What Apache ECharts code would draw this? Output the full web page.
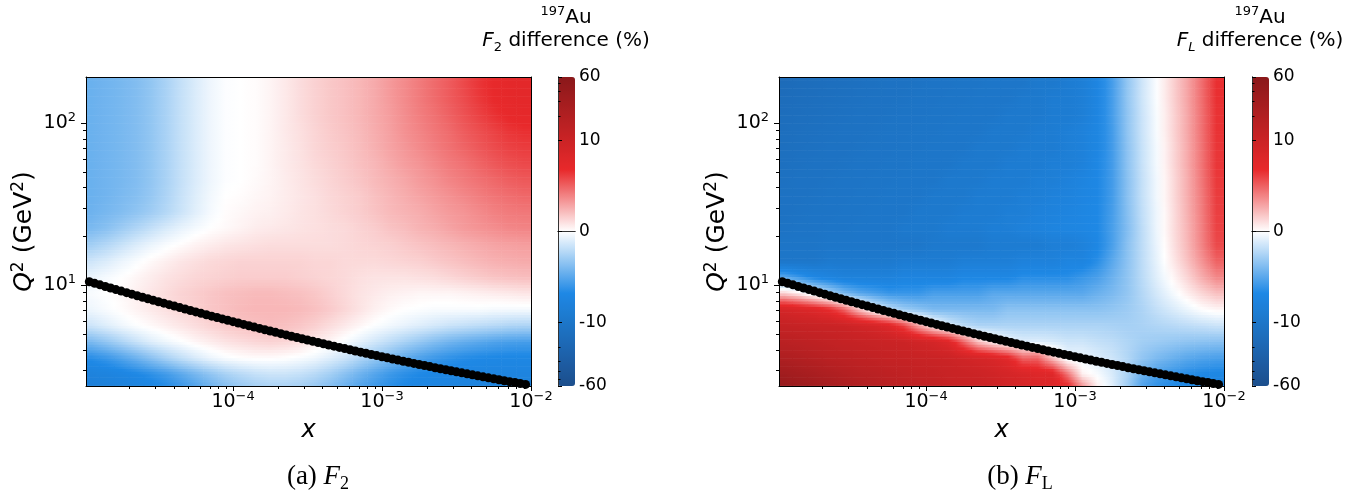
<!DOCTYPE html>
<html>
<head>
<meta charset="utf-8">
<script src="https://cdn.jsdelivr.net/npm/echarts@6/dist/echarts.min.js"></script>
<style>
  html, body { margin: 0; padding: 0; background: #fff; }
  #chart { width: 1369px; height: 496px; }
</style>
</head>
<body>
<div id="chart"></div>
<script>
// cell edges of the two maps: x (log spaced) and Q^2 in GeV^2, top row first
const xEdges = [1.000e-5, 1.259e-5, 1.585e-5, 1.995e-5, 2.512e-5, 3.162e-5, 3.981e-5, 5.012e-5, 6.310e-5, 7.943e-5,
  1.000e-4, 1.259e-4, 1.585e-4, 1.995e-4, 2.512e-4, 3.162e-4, 3.981e-4, 5.012e-4, 6.310e-4, 7.943e-4,
  1.000e-3, 1.259e-3, 1.585e-3, 1.995e-3, 2.512e-3, 3.162e-3, 3.981e-3, 5.012e-3, 6.310e-3, 7.943e-3, 1.000e-2];
const q2Edges = [199.5, 158.5, 125.9, 100.0, 79.43, 63.10, 50.12, 39.81, 31.62, 25.12, 19.95,
  15.85, 12.59, 10.00, 7.943, 6.310, 5.012, 3.981, 3.162, 2.512, 1.995];

// F2 difference (%) per cell
const f2Diff = [
  [-4.5,-4.3,-4.1,-3.8,-3.3,-2.6,-1.8,-1.1,-0.5,-0.1, 0.0,0.1,0.35,0.7,1.1,1.45,1.75,2.0,2.3,2.7, 3.2,3.7,4.2,4.7,5.2,5.8,6.4,6.9,7.2,7.4],
  [-4.5,-4.3,-4.1,-3.8,-3.3,-2.6,-1.8,-1.1,-0.5,-0.1, 0.0,0.1,0.35,0.7,1.1,1.45,1.75,2.0,2.3,2.7, 3.2,3.7,4.2,4.7,5.2,5.7,6.3,6.8,7.1,7.3],
  [-4.5,-4.3,-4.1,-3.8,-3.3,-2.6,-1.8,-1.1,-0.5,-0.1, 0.0,0.1,0.35,0.7,1.1,1.45,1.75,2.0,2.3,2.7, 3.1,3.6,4.1,4.5,5.0,5.5,6.0,6.5,6.9,7.1],
  [-4.5,-4.3,-4.1,-3.8,-3.3,-2.6,-1.8,-1.1,-0.5,-0.1, 0.0,0.1,0.35,0.7,1.0,1.35,1.65,1.9,2.2,2.6, 3.0,3.5,3.9,4.3,4.7,5.2,5.6,6.0,6.4,6.6],
  [-4.5,-4.3,-4.1,-3.8,-3.3,-2.6,-1.8,-1.1,-0.5,-0.1, 0.0,0.1,0.35,0.65,0.95,1.3,1.55,1.8,2.1,2.5, 2.9,3.3,3.7,4.1,4.5,4.9,5.3,5.7,6.0,6.2],
  [-4.5,-4.3,-4.1,-3.8,-3.3,-2.6,-1.8,-1.1,-0.5,-0.1, 0.0,0.1,0.35,0.65,0.9,1.2,1.45,1.7,2.0,2.3, 2.7,3.1,3.4,3.8,4.2,4.5,4.9,5.3,5.6,5.8],
  [-4.5,-4.3,-4.1,-3.8,-3.3,-2.6,-1.8,-1.1,-0.5,-0.1, 0.0,0.15,0.35,0.6,0.85,1.1,1.35,1.6,1.85,2.2, 2.5,2.8,3.2,3.5,3.9,4.2,4.5,4.8,5.1,5.3],
  [-4.5,-4.3,-4.0,-3.7,-3.2,-2.5,-1.7,-1.0,-0.4,0.0, 0.1,0.25,0.4,0.6,0.8,1.0,1.25,1.45,1.65,2.0, 2.3,2.6,2.9,3.2,3.5,3.8,4.1,4.4,4.6,4.8],
  [-4.4,-4.1,-3.8,-3.4,-2.9,-2.3,-1.6,-0.9,-0.3,0.1, 0.25,0.4,0.5,0.65,0.85,1.0,1.2,1.4,1.6,1.9, 2.2,2.4,2.6,2.9,3.2,3.4,3.7,4.0,4.2,4.3],
  [-4.0,-3.6,-3.0,-2.4,-1.8,-1.2,-0.7,-0.3,0.0,0.2, 0.4,0.6,0.7,0.8,0.9,1.0,1.1,1.2,1.4,1.6, 1.9,2.1,2.4,2.6,2.9,3.2,3.4,3.6,3.8,3.9],
  [-2.8,-2.3,-1.7,-1.1,-0.6,-0.2,0.1,0.4,0.6,0.8, 0.9,1.0,1.1,1.1,1.1,1.1,1.1,1.2,1.3,1.4, 1.5,1.7,1.9,2.1,2.3,2.5,2.7,2.9,3.0,3.1],
  [-1.5,-1.1,-0.6,-0.2,0.2,0.5,0.8,1.0,1.2,1.3, 1.4,1.4,1.4,1.4,1.4,1.3,1.3,1.2,1.2,1.2, 1.3,1.4,1.5,1.7,1.9,2.1,2.3,2.5,2.6,2.7],
  [-0.6,-0.3,0.0,0.3,0.6,0.9,1.1,1.3,1.4,1.5, 1.6,1.6,1.6,1.6,1.5,1.4,1.3,1.2,1.0,0.9, 0.9,0.9,1.0,1.1,1.3,1.5,1.7,1.9,2.0,2.1],
  [-0.2,0.0,0.2,0.5,0.8,1.1,1.4,1.6,1.8,2.0, 2.1,2.2,2.2,2.1,2.0,1.8,1.5,1.2,0.9,0.7, 0.5,0.4,0.3,0.3,0.3,0.4,0.5,0.6,0.7,0.8],
  [-0.5,-0.2,0.1,0.4,0.7,1.0,1.3,1.5,1.8,2.0, 2.2,2.3,2.3,2.3,2.2,2.0,1.7,1.3,0.9,0.5, 0.2,0.0,-0.1,-0.2,-0.2,-0.2,-0.2,-0.3,-0.3,-0.3],
  [-1.5,-1.0,-0.5,-0.1,0.2,0.5,0.8,1.1,1.4,1.7, 1.9,2.0,2.1,2.0,1.8,1.5,1.1,0.7,0.3,-0.1, -0.4,-0.7,-1.0,-1.3,-1.6,-1.8,-2.0,-2.2,-2.4,-2.5],
  [-4.0,-3.3,-2.5,-1.7,-1.0,-0.5,-0.1,0.3,0.6,0.9, 1.1,1.3,1.4,1.3,1.1,0.7,0.3,-0.2,-0.8,-1.4, -2.0,-2.6,-3.2,-3.8,-4.3,-4.7,-5.0,-5.3,-5.5,-5.6],
  [-6.5,-6.0,-5.3,-4.5,-3.6,-2.7,-1.9,-1.2,-0.6,-0.2, 0.0,0.1,0.1,0.0,-0.2,-0.5,-1.0,-1.6,-2.4,-3.2, -4.0,-4.8,-5.4,-5.9,-6.3,-6.6,-6.8,-6.9,-7.0,-7.0],
  [-7.8,-7.6,-7.3,-6.9,-6.4,-5.8,-5.0,-4.2,-3.4,-2.7, -2.2,-1.8,-1.6,-1.6,-1.8,-2.2,-2.8,-3.6,-4.4,-5.2, -5.9,-6.4,-6.8,-7.0,-7.2,-7.3,-7.4,-7.5,-7.5,-7.5],
  [-8.5,-8.3,-8.1,-7.8,-7.4,-6.9,-6.3,-5.6,-4.8,-4.1, -3.5,-3.1,-2.9,-2.9,-3.1,-3.5,-4.1,-4.8,-5.5,-6.1, -6.6,-7.0,-7.3,-7.5,-7.6,-7.7,-7.8,-7.8,-7.8,-7.8]
];

// FL difference (%) per cell
const flDiff = [
  [-16,-15,-14.5,-14,-13.5,-13,-12.5,-12,-12,-11.5,-11,-11,-10.5,-10.5,-10,-10,-10,-9.5,-9.5,-9,-8.5,-7.3,-5.6,-3.3,-1.5,-0.1,1.3,2.8,4.6,6.6],
  [-15,-14.5,-14,-13.5,-13,-12.5,-12,-12,-11.5,-11,-11,-10.5,-10.5,-10,-10,-10,-9.5,-9.5,-9,-9,-8.5,-7.3,-5.6,-3.3,-1.5,-0.1,1.3,2.8,4.6,6.6],
  [-14.5,-14,-13.5,-13,-12.5,-12,-12,-11.5,-11,-11,-10.5,-10.5,-10,-10,-10,-9.5,-9.5,-9.5,-9,-9,-8.5,-7.3,-5.6,-3.4,-1.6,-0.2,1.2,2.7,4.5,6.5],
  [-14,-13.5,-13,-12.5,-12,-12,-11.5,-11,-11,-10.5,-10.5,-10,-10,-10,-9.5,-9.5,-9.5,-9,-9,-8.5,-8,-7.2,-5.7,-3.4,-1.6,-0.2,1.2,2.7,4.5,6.5],
  [-13.5,-13,-12.5,-12,-12,-11.5,-11,-11,-10.5,-10.5,-10,-10,-10,-9.5,-9.5,-9.5,-9,-9,-9,-8.5,-8,-7.2,-5.7,-3.5,-1.7,-0.3,1.1,2.6,4.4,6.4],
  [-13,-12.5,-12,-12,-11.5,-11,-11,-10.5,-10.5,-10,-10,-10,-9.5,-9.5,-9.5,-9,-9,-9,-8.5,-8.5,-8,-7.0,-5.7,-3.5,-1.7,-0.3,1.1,2.6,4.4,6.4],
  [-12.5,-12,-12,-11.5,-11,-11,-10.5,-10.5,-10,-10,-10,-9.5,-9.5,-9.5,-9,-9,-9,-8.5,-8.5,-8,-7.5,-6.9,-5.7,-3.6,-1.8,-0.4,1.0,2.5,4.3,6.3],
  [-12,-12,-11.5,-11,-11,-10.5,-10.5,-10,-10,-10,-9.5,-9.5,-9.5,-9,-9,-9,-8.5,-8.5,-8,-7.8,-7.3,-6.9,-5.7,-3.6,-1.8,-0.4,1.0,2.5,4.2,6.2],
  [-12,-11.5,-11,-11,-10.5,-10.5,-10,-10,-10,-9.5,-9.5,-9.5,-9,-9,-9,-8.5,-8.5,-8,-7.8,-7.5,-7.2,-6.8,-5.6,-3.7,-1.9,-0.5,0.9,2.4,4.1,6.1],
  [-11.5,-11,-11,-10.5,-10.5,-10,-10,-10,-9.5,-9.5,-9.5,-9,-9,-9,-8.5,-8.5,-8,-7.8,-7.5,-7.3,-7.1,-6.8,-5.5,-3.8,-2.0,-0.5,0.9,2.3,4.0,6.0],
  [-10.5,-10.5,-10.5,-10,-10,-10,-10,-10,-10,-10,-9.5,-9.5,-9.5,-9.5,-9,-9,-9,-9,-8.5,-8.5,-8,-7,-5.5,-3.6,-2.0,-0.6,0.8,2.2,3.9,5.8],
  [-10,-10,-10,-9.5,-9.5,-9.5,-9.5,-9.5,-9,-9,-9,-9,-8.5,-8.5,-8.5,-8.5,-8,-8,-8,-7.5,-7.5,-6.5,-5.0,-3.5,-2.0,-0.7,0.6,1.9,3.4,5.0],
  [-5,-6,-7,-7.5,-8,-8,-8,-8,-7.5,-7.5,-7.5,-7.5,-7,-7,-7,-7,-6.5,-6.5,-6.5,-6.5,-6,-5.5,-4.5,-3.4,-2.1,-0.9,0.2,1.3,2.6,3.8],
  [1.5,0.5,-1,-2.5,-4,-5,-5.5,-6,-6,-6,-5.5,-5.5,-5.5,-5.5,-5,-5,-5,-5,-5,-5,-5,-4.5,-4.0,-3.3,-2.3,-1.3,-0.4,0.5,1.3,2.0],
  [9,8.5,8,7,5,2,-0.5,-2,-3,-3.5,-4,-4,-4,-4,-4,-3.5,-3.5,-3.5,-3.5,-3.5,-3.5,-3.5,-3.3,-3.0,-2.5,-1.8,-1.2,-0.6,0.0,0.3],
  [12,11.5,11,10.5,10,9.5,9,8,6,3,0.5,-1,-2,-2.5,-2.5,-2.5,-2.5,-2.5,-2.5,-2.5,-2.5,-2.5,-2.6,-2.7,-2.6,-2.4,-2.2,-2.0,-1.8,-1.6],
  [16,15,14,13,12,11.5,11,10.5,10,9.5,9,8,5,2,0.5,-0.5,-1,-1,-1.2,-1.5,-1.5,-1.8,-2.0,-2.4,-2.8,-3.0,-3.2,-3.4,-3.5,-3.6],
  [22,20,18,16,15,14,13,12,11.5,11,10.5,10,9.5,9,8.5,7.5,5,5,2,-0.5,-0.5,-1.0,-1.5,-2.3,-3.3,-4.0,-4.5,-5.0,-5.3,-5.5],
  [32,28,25,22,19,17,16,14.5,13.5,12.5,12,11,10.5,10,9.5,9,8.5,8,8,4.5,0.5,-0.2,-1.2,-2.5,-4.5,-5.5,-6.0,-6.5,-6.8,-7.0],
  [45,40,34,29,25,22,19,17,15,14,13,12,11,10.5,10,9.5,9,8.5,8,8,4.5,0.8,-0.8,-3.0,-5.5,-6.5,-7.0,-7.2,-7.3,-7.5]
];

// black points drawn on both maps
const dotX = [
  1.084e-5,1.177e-5,1.278e-5,1.387e-5,1.506e-5,1.635e-5,1.775e-5,1.928e-5,2.093e-5,2.272e-5,2.467e-5,2.679e-5,2.908e-5,3.157e-5,
  3.428e-5,3.722e-5,4.041e-5,4.387e-5,4.764e-5,5.172e-5,5.615e-5,6.096e-5,6.618e-5,7.186e-5,7.801e-5,8.469e-5,9.196e-5,9.984e-5,
  1.084e-4,1.177e-4,1.278e-4,1.387e-4,1.506e-4,1.635e-4,1.775e-4,1.928e-4,2.093e-4,2.272e-4,2.467e-4,2.679e-4,2.908e-4,3.157e-4,
  3.428e-4,3.722e-4,4.041e-4,4.387e-4,4.764e-4,5.172e-4,5.615e-4,6.096e-4,6.618e-4,7.186e-4,7.801e-4,8.469e-4,9.196e-4,9.984e-4,
  1.084e-3,1.177e-3,1.278e-3,1.387e-3,1.506e-3,1.635e-3,1.775e-3,1.928e-3,2.093e-3,2.272e-3,2.467e-3,2.679e-3,2.908e-3,3.157e-3,
  3.428e-3,3.722e-3,4.041e-3,4.387e-3,4.764e-3,5.172e-3,5.615e-3,6.096e-3,6.618e-3,7.186e-3,7.801e-3,8.469e-3,9.196e-3
];
const dotQ2 = [
  10.52,10.28,10.06,9.835,9.619,9.409,9.205,9.006,8.812,8.624,
  8.440,8.262,8.088,7.919,7.754,7.594,7.438,7.285,7.137,6.993,
  6.852,6.714,6.581,6.451,6.324,6.200,6.080,5.962,5.848,5.736,
  5.628,5.522,5.418,5.318,5.219,5.123,5.029,4.938,4.849,4.762,
  4.677,4.595,4.514,4.435,4.358,4.283,4.210,4.138,4.068,3.999,
  3.933,3.867,3.804,3.742,3.681,3.622,3.565,3.508,3.453,3.400,
  3.347,3.295,3.245,3.196,3.148,3.100,3.055,3.010,2.966,2.923,
  2.881,2.840,2.800,2.761,2.722,2.685,2.648,2.612,2.577,2.543,
  2.510,2.477,2.445
];

const xTicks = [1e-4, 1e-3, 1e-2];
const xTickLabels = ['10{s|−4}', '10{s|−3}', '10{s|−2}'];
const yTicks = [10, 100];
const yTickLabels = ['10{s|1}', '10{s|2}'];
const cbTicks = [-60, -10, 0, 10, 60];
const cbMinorTicks = [-50, -40, -30, -20, 20, 30, 40, 50];
const cmap = ['#1c4e8c', '#1d61aa', '#1d75c7', '#1e88e5', '#8fc4f2', '#ffffff',
  '#f49495', '#e8292b', '#c92325', '#a91e20', '#8a181a'];

const X_MIN = 1.03e-5, X_MAX = 1e-2, Y_MIN = 2.39, Y_MAX = 193;
const FONT = 'DejaVu Sans';
const TOP = 77, W = 445, H = 309, CBW = 17;
const STRIPS = 6;

// matplotlib style symlog, linthresh 10
const LINSCALE = 1 / (1 - 1 / 10);
function symlog(v) {
  const a = Math.abs(v);
  const s = a <= 10 ? a / 10 * LINSCALE : LINSCALE + Math.log10(a / 10);
  return v < 0 ? -s : s;
}
const CB_MAX = symlog(60);

const xMinor = [];
[1e-5, 1e-4, 1e-3].forEach(p => { for (let m = 2; m < 10; m++) xMinor.push(m * p); });
const yMinor = [];
[1, 10, 100].forEach(p => { for (let m = 2; m < 10; m++) yMinor.push(m * p); });

function pick(ticks, labels, v, logScale) {
  let best = 0, bd = Infinity;
  ticks.forEach((t, i) => {
    const d = logScale ? Math.abs(Math.log10(t) - Math.log10(v)) : Math.abs(symlog(t) - v);
    if (d < bd) { bd = d; best = i; }
  });
  return labels[best];
}

const cmapRgb = cmap.map(h => [1, 3, 5].map(k => parseInt(h.slice(k, k + 2), 16)));
function colorOf(s) {
  let t = (s + CB_MAX) / (2 * CB_MAX) * (cmap.length - 1);
  t = Math.max(0, Math.min(cmap.length - 1, t));
  const i = Math.min(cmap.length - 2, Math.floor(t)), f = t - i;
  const a = cmapRgb[i], b = cmapRgb[i + 1];
  return 'rgb(' + a.map((v, k) => Math.round(v + (b[k] - v) * f)).join(',') + ')';
}

function cells(grid) {
  const out = [];
  grid.forEach((row, r) => row.forEach((v, c) => {
    out.push([xEdges[c], xEdges[c + 1], q2Edges[r + 1], q2Edges[r], symlog(v), v]);
  }));
  return out;
}

// each cell is shaded from its own value toward its neighbours (gouraud-like)
function makeRenderer(vals) {
  const S = vals.map(row => row.map(symlog));
  const nR = S.length, nC = S[0].length;
  function sample(r, c) {
    r = Math.max(0, Math.min(nR - 1, r));
    c = Math.max(0, Math.min(nC - 1, c));
    const r0 = Math.min(nR - 2, Math.floor(r)), c0 = Math.min(nC - 2, Math.floor(c));
    const fr = r - r0, fc = c - c0;
    return (S[r0][c0] * (1 - fc) + S[r0][c0 + 1] * fc) * (1 - fr) +
      (S[r0 + 1][c0] * (1 - fc) + S[r0 + 1][c0 + 1] * fc) * fr;
  }
  return function (params, api) {
    const idx = params.dataIndex, r = Math.floor(idx / nC), c = idx % nC;
    const a = api.coord([api.value(0), api.value(3)]);
    const b = api.coord([api.value(1), api.value(2)]);
    const cs = params.coordSys;
    const clip = { x: cs.x, y: cs.y, width: cs.width, height: cs.height };
    const children = [];
    for (let k = 0; k < STRIPS; k++) {
      const fy = r - 0.5 + (k + 0.5) / STRIPS;
      const y0 = a[1] + (b[1] - a[1]) * k / STRIPS;
      const y1 = a[1] + (b[1] - a[1]) * (k + 1) / STRIPS;
      const shape = echarts.graphic.clipRectByRect(
        { x: a[0], y: y0, width: b[0] - a[0] + 0.6, height: y1 - y0 + 0.6 }, clip);
      if (!shape) continue;
      children.push({
        type: 'rect', shape: shape,
        style: { fill: new echarts.graphic.LinearGradient(a[0], 0, b[0], 0, [
          { offset: 0, color: colorOf(sample(fy, c - 0.5)) },
          { offset: 0.5, color: colorOf(sample(fy, c)) },
          { offset: 1, color: colorOf(sample(fy, c + 0.5)) }], true) }
      });
    }
    return { type: 'group', children: children };
  };
}

const black = { color: '#000', width: 1 };
const supRich = { s: { fontSize: 13, lineHeight: 13, verticalAlign: 'top', fontFamily: FONT, color: '#000' } };
const panels = [
  { left: 86, cbLeft: 558, data: f2Diff, name: 'F2' },
  { left: 779, cbLeft: 1252, data: flDiff, name: 'FL' }
];

const grid = [], xAxis = [], yAxis = [], series = [], visualMap = [];
panels.forEach((p) => {
  const g = grid.length;
  grid.push({ left: p.left, top: TOP, width: W, height: H });
  grid.push({ left: p.cbLeft, top: TOP, width: CBW, height: H });
  const xi = xAxis.length, yi = yAxis.length;
  // main map axes
  xAxis.push({
    gridIndex: g, type: 'log', min: X_MIN, max: X_MAX, position: 'bottom', z: 10,
    axisLine: { show: true, lineStyle: black },
    axisTick: { show: true, customValues: xTicks, length: 5, lineStyle: black },
    axisLabel: { customValues: xTicks, formatter: v => pick(xTicks, xTickLabels, v, true),
      color: '#000', fontFamily: FONT, fontSize: 19, lineHeight: 24, margin: 4, rich: supRich },
    splitLine: { show: false },
    name: 'x', nameLocation: 'middle', nameGap: 33,
    nameTextStyle: { color: '#000', fontFamily: FONT, fontSize: 24, fontStyle: 'italic' }
  });
  xAxis.push({
    gridIndex: g, type: 'log', min: X_MIN, max: X_MAX, position: 'bottom', z: 10,
    axisLine: { show: false },
    axisTick: { show: true, customValues: xMinor, length: 3, lineStyle: black },
    axisLabel: { show: false }, splitLine: { show: false }
  });
  xAxis.push({
    gridIndex: g, type: 'value', min: 0, max: 1, position: 'top', z: 10,
    axisLine: { show: true, lineStyle: black }, axisTick: { show: false },
    axisLabel: { show: false }, splitLine: { show: false }
  });
  yAxis.push({
    gridIndex: g, type: 'log', min: Y_MIN, max: Y_MAX, position: 'left', z: 10,
    axisLine: { show: true, lineStyle: black },
    axisTick: { show: true, customValues: yTicks, length: 5, lineStyle: black },
    axisLabel: { customValues: yTicks, formatter: v => pick(yTicks, yTickLabels, v, true),
      color: '#000', fontFamily: FONT, fontSize: 19, lineHeight: 24, margin: 10, rich: supRich },
    splitLine: { show: false },
    name: '{i|Q}{s|2} (GeV{s|2})', nameLocation: 'middle', nameGap: 45, nameRotate: 90,
    nameTextStyle: { color: '#000', fontFamily: FONT, fontSize: 25, lineHeight: 30,
      rich: { i: { fontStyle: 'italic', fontFamily: FONT, fontSize: 25, color: '#000' },
              s: { fontFamily: FONT, fontSize: 17, lineHeight: 17, verticalAlign: 'top', color: '#000' } } }
  });
  yAxis.push({
    gridIndex: g, type: 'log', min: Y_MIN, max: Y_MAX, position: 'left', z: 10,
    axisLine: { show: false },
    axisTick: { show: true, customValues: yMinor, length: 3, lineStyle: black },
    axisLabel: { show: false }, splitLine: { show: false }
  });
  yAxis.push({
    gridIndex: g, type: 'value', min: 0, max: 1, position: 'right', z: 10,
    axisLine: { show: true, lineStyle: black }, axisTick: { show: false },
    axisLabel: { show: false }, splitLine: { show: false }
  });
  // colorbar frame and ticks
  const cbLine = { color: '#333', width: 1 };
  xAxis.push({ gridIndex: g + 1, type: 'value', min: 0, max: 1, position: 'bottom', z: 10,
    axisLine: { show: true, lineStyle: cbLine }, axisTick: { show: false }, axisLabel: { show: false }, splitLine: { show: false } });
  xAxis.push({ gridIndex: g + 1, type: 'value', min: 0, max: 1, position: 'top', z: 10,
    axisLine: { show: true, lineStyle: cbLine }, axisTick: { show: false }, axisLabel: { show: false }, splitLine: { show: false } });
  yAxis.push({ gridIndex: g + 1, type: 'value', min: -CB_MAX, max: CB_MAX, position: 'right', z: 10,
    axisLine: { show: true, lineStyle: cbLine },
    axisTick: { show: true, customValues: cbTicks.map(symlog), length: 4, lineStyle: black },
    axisLabel: { customValues: cbTicks.map(symlog), formatter: v => pick(cbTicks, cbTicks.map(String), v, false),
      color: '#000', fontFamily: FONT, fontSize: 17, margin: 4 },
    splitLine: { show: false } });
  yAxis.push({ gridIndex: g + 1, type: 'value', min: -CB_MAX, max: CB_MAX, position: 'right', z: 10,
    axisLine: { show: false },
    axisTick: { show: true, customValues: cbMinorTicks.map(symlog), length: 2.5, lineStyle: black },
    axisLabel: { show: false }, splitLine: { show: false } });
  yAxis.push({ gridIndex: g + 1, type: 'value', min: -CB_MAX, max: CB_MAX, position: 'left', z: 10,
    axisLine: { show: true, lineStyle: cbLine }, axisTick: { show: false }, axisLabel: { show: false }, splitLine: { show: false } });

  const si = series.length;
  series.push({
    type: 'custom', name: p.name, xAxisIndex: xi, yAxisIndex: yi,
    renderItem: makeRenderer(p.data), data: cells(p.data),
    encode: { x: [0, 1], y: [2, 3], tooltip: 5 }, z: 2
  });
  series.push({
    type: 'scatter', xAxisIndex: xi, yAxisIndex: yi, symbol: 'circle', symbolSize: 9,
    itemStyle: { color: '#000', opacity: 1 }, data: dotX.map((x, k) => [x, dotQ2[k]]), z: 5
  });
  visualMap.push({
    type: 'continuous', seriesIndex: si, dimension: 4, min: -CB_MAX, max: CB_MAX,
    inRange: { color: cmap }, orient: 'vertical', left: p.cbLeft, top: TOP,
    itemWidth: CBW, itemHeight: H, padding: 0, calculable: false, text: null
  });
});

const titleRich = {
  s: { fontFamily: FONT, fontSize: 13, lineHeight: 13, verticalAlign: 'top', fill: '#000' },
  i: { fontFamily: FONT, fontSize: 20, fontStyle: 'italic', lineHeight: 26, fill: '#000' },
  b: { fontFamily: FONT, fontSize: 13, lineHeight: 13, verticalAlign: 'bottom', fill: '#000' },
  bi: { fontFamily: FONT, fontSize: 13, lineHeight: 13, verticalAlign: 'bottom', fontStyle: 'italic', fill: '#000' }
};
const graphic = [];
[{ cx: 566, line2: '{i|F}{b|2} difference (%)' }, { cx: 1260, line2: '{i|F}{bi|L} difference (%)' }].forEach(t => {
  graphic.push({ type: 'text', x: t.cx, y: 5, style: { text: '{s|197}Au', align: 'center', verticalAlign: 'top',
    fontFamily: FONT, fontSize: 20, lineHeight: 26, fill: '#000', rich: titleRich } });
  graphic.push({ type: 'text', x: t.cx, y: 28, style: { text: t.line2, align: 'center', verticalAlign: 'top',
    fontFamily: FONT, fontSize: 20, lineHeight: 26, fill: '#000', rich: titleRich } });
});
const serif = 'Liberation Serif';
const capRich = {
  i: { fontFamily: serif, fontSize: 27, fontStyle: 'italic', lineHeight: 32, fill: '#000' },
  b: { fontFamily: serif, fontSize: 18, lineHeight: 18, verticalAlign: 'bottom', fill: '#000' }
};
[{ cx: 318, text: '(a) {i|F}{b|2}' }, { cx: 1020, text: '(b) {i|F}{b|L}' }].forEach(t => {
  graphic.push({ type: 'text', x: t.cx, y: 461, style: { text: t.text, align: 'center', verticalAlign: 'top',
    fontFamily: serif, fontSize: 27, lineHeight: 32, fill: '#000', rich: capRich } });
});

const chart = echarts.init(document.getElementById('chart'));
chart.setOption({
  animation: false,
  backgroundColor: '#fff',
  grid, xAxis, yAxis, series, visualMap, graphic
});
</script>
</body>
</html>
